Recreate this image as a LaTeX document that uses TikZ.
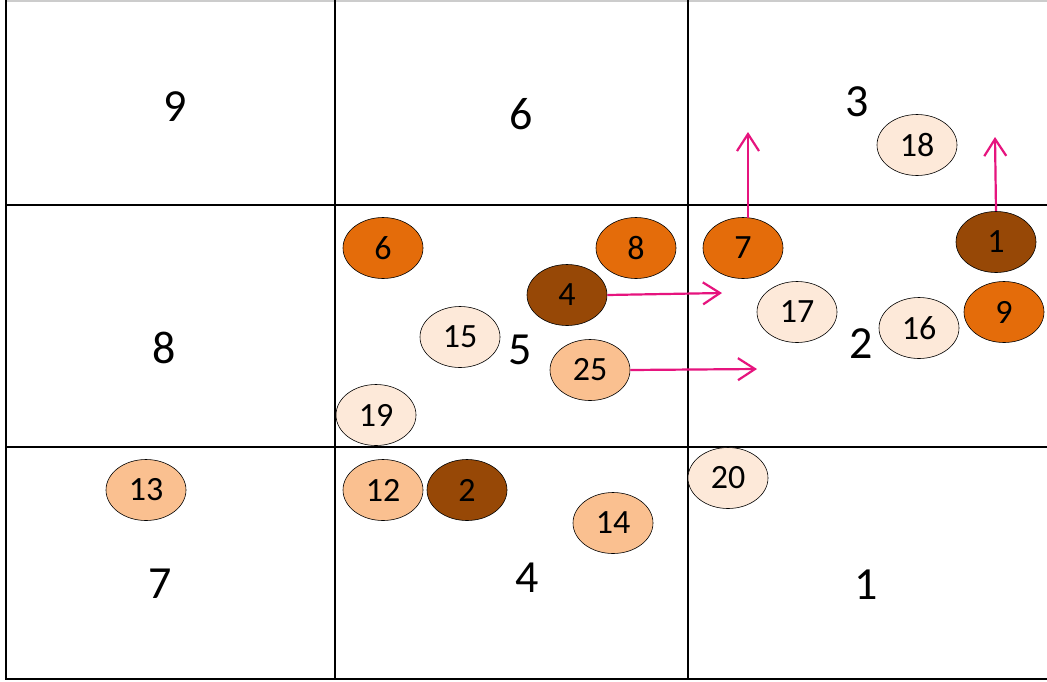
\documentclass[tikz,border=0pt]{standalone}
\usepackage{fontspec}
\setmainfont{Carlito}
\usetikzlibrary{shapes.geometric,arrows.meta}
\definecolor{cdark}{HTML}{974806}
\definecolor{corange}{HTML}{E46C0A}
\definecolor{clight}{HTML}{FAC090}
\definecolor{cpale}{HTML}{FDE9D9}
\definecolor{cpink}{HTML}{E6147E}
\tikzset{
  ball/.style={ellipse, draw=black, line width=0.6pt, minimum width=80pt, minimum height=61pt, inner sep=0pt, font=\fontsize{34}{34}\selectfont},
  dk/.style={ball, fill=cdark},
  og/.style={ball, fill=corange},
  lt/.style={ball, fill=clight},
  pl/.style={ball, fill=cpale},
  region/.style={font=\fontsize{46}{46}\selectfont, inner sep=0pt},
  grid/.style={line width=1.4pt, black},
  move/.style={cpink, line width=2.2pt, -{Straight Barb[length=17pt,width=22pt,line width=2.2pt]}}
}
\begin{document}
\begin{tikzpicture}[x=1pt,y=-1pt]
\useasboundingbox (0,0) rectangle (1047,681);
\fill[white] (0,0) rectangle (1047,681);
% grid
\draw[gray!40, line width=1.5pt] (6,1) -- (1047,1);
\draw[grid] (6,0) -- (6,679) -- (1047,679);
\draw[grid] (335,0) -- (335,679);
\draw[grid] (688,0) -- (688,679);
\draw[grid] (6,205) -- (1047,205);
\draw[grid] (6,447) -- (1047,447);
% region labels
\node[region] (r9) at (175,107) {9};
\node[region] (r6) at (521,114) {6};
\node[region] (r3) at (857,102) {3};
\node[region] (r8) at (164,348) {8};
\node[region] (r5) at (520,350) {5};
\node[region] (r2) at (861,344) {2};
\node[region] (r7) at (160,584) {7};
\node[region] (r4) at (527,578) {4};
\node[region] (r1) at (866,585) {1};
% balls
\node[pl] (b18) at (917,145) {18};
\node[og] (b6) at (383,248) {6};
\node[og] (b8) at (636,248) {8};
\node[og] (b7) at (743,248) {7};
\node[dk] (b1) at (996,242) {1};
\node[dk] (b4) at (567,295) {4};
\node[pl] (b17) at (797,312) {17};
\node[pl] (b16) at (919,328) {16};
\node[og] (b9) at (1004,312) {9};
\node[pl] (b15) at (460,337) {15};
\node[lt] (b25) at (590,370) {25};
\node[pl] (b19) at (376,415) {19};
\node[lt] (b13) at (146,490) {13};
\node[lt] (b12) at (383,490) {12};
\node[dk] (b2) at (467,490) {2};
\node[pl] (b20) at (728,478) {20};
\node[lt] (b14) at (613,523) {14};
% arrows
\coordinate (t4) at (722,293);
\coordinate (t25) at (757,369);
\coordinate (s7) at (748,218);
\coordinate (t7) at (748,132);
\coordinate (t1) at (995,137);
\draw[move] (b4.east) -- (t4);
\draw[move] (b25.east) -- (t25);
\draw[move] (s7) -- (t7);
\draw[move] (b1.north) -- (t1);
\end{tikzpicture}
\end{document}
